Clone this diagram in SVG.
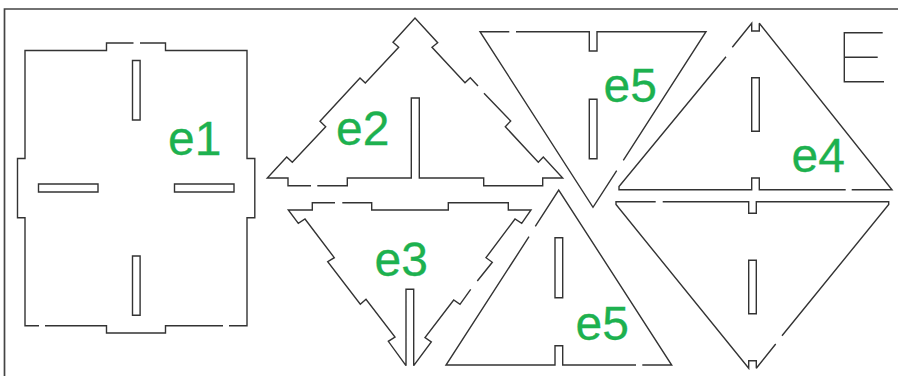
<svg xmlns="http://www.w3.org/2000/svg" width="898" height="376" viewBox="0 0 898 376">
<style>
.c{fill:none;stroke:#333;stroke-width:1.4;stroke-linejoin:miter;stroke-miterlimit:3}
.f{fill:none;stroke:#444;stroke-width:1.7}
.l{font-family:"Liberation Sans",Arial,sans-serif;font-size:48px;fill:#1db14f;stroke:#1db14f;stroke-width:.3}
</style>
<rect width="898" height="376" fill="#fff"/>
<path id="frame" class="f" d="M4.5 376V9H898"/>
<g id="e1">
<path class="c" d="M133.5 43H106.5V50.5H25V158.5H17.5V217.7H25V325.7H39M45 325.7H106.5V333H165.5V325.7H223M229 325.7H247V217.7H254.8V158.5H247V50.5H165.5V43H140"/>
<path class="c" d="M132.5 60.5h7.6V120h-7.6zM132.5 256h7.6v59.3h-7.6zM38.5 184H98v8H38.5zM174.5 184H234v8h-59.5z"/>
<text class="l" x="168" y="155">e1</text>
</g>
<g id="e2">
<path class="c" d="M478 86L470.3 77.7L465 82.7L432 47.3L437.7 42.7L415 18L393 42.3L398.7 47.3L365.3 83L360 78L320 121.3L325.7 126.7L292.3 162.3L286.7 157L267.3 178H288V185.7H311M317.3 185.7H347.3V178H411.3V98H419.3V178H483.7V185.7H542.7V178H562.7L543.3 157L538.3 162.3L505.3 126.7L510.7 121L484 93.3"/>
<text class="l" x="336" y="145">e2</text>
</g>
<g id="e3">
<path class="c" d="M335 202.7H312.3V210H288.3L298.3 223.3L305 219L334.3 257.7L327.7 261.7L360.3 304.3L366 299.3L395 337L388.3 341.3L406 365.7V289.3H413.7V365.7L431.3 342L425 337.7L453.7 300L460 304.3L470.7 289.3M477.3 281L492.3 262.3L486 257.7L515 219L521.7 223.3L531 210H508.3V202.7H448.3V210H371.7V202.7H342.3"/>
<text class="l" x="374.5" y="276">e3</text>
</g>
<g id="e5-top">
<path class="c" d="M509.3 31.7H480L593 207.3L616.7 170.7M623.3 160.3L706 31.7H597V51H589.3V31.7H516"/>
<path class="c" d="M589.3 99.3H597V158.7H589.3z"/>
<text class="l" x="603.5" y="102">e5</text>
</g>
<g id="e4-top">
<path class="c" d="M726 56.7L619 186.5V189.7H751.7V178H759.3V189.7H845.7M851.7 189.7H892L759.3 23.3V31H751.7V23.3L732.3 47.3"/>
<path class="c" d="M751.7 77.7H759.3V131.3H751.7z"/>
<text class="l" x="791.5" y="172">e4</text>
</g>
<g id="e5-bottom">
<path class="c" d="M529 236.7L446 365H555V345.7H562.7V365H636M642.3 365H671.7L558.7 190L535.3 226.3"/>
<path class="c" d="M555 237.7H562.7V297.7H555z"/>
<text class="l" x="575.5" y="340">e5</text>
</g>
<g id="e4-bottom">
<path class="c" d="M655.7 201.7H616V204.5L748.7 368.3V360.7H756.3V368.3L775.7 344M782 335.7L888.7 204.5V201.7H756.3V213.3H748.7V201.7H662.7"/>
<path class="c" d="M748.7 260.3H756.3V313.7H748.7z"/>
</g>
<g id="letter-e">
<path class="c" d="M882.7 32.7H844.3V81.7H884M844.3 57.3H877.7"/>
</g>
</svg>
